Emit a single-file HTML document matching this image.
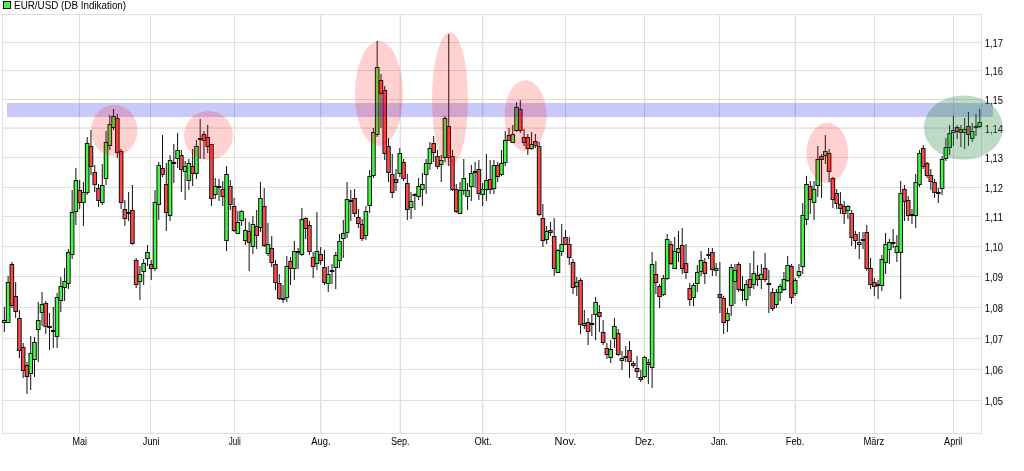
<!DOCTYPE html>
<html><head><meta charset="utf-8"><style>
html,body{margin:0;padding:0;background:#fff;width:1024px;height:471px;overflow:hidden;position:relative}
</style></head><body>
<svg width="1024" height="471" viewBox="0 0 1024 471" style="position:absolute;left:0;top:0;will-change:transform"><g shape-rendering="crispEdges"><rect x="2" y="42" width="980" height="1" fill="#dfdfdf"/><rect x="2" y="70" width="980" height="1" fill="#dfdfdf"/><rect x="2" y="99" width="980" height="1" fill="#dfdfdf"/><rect x="2" y="127" width="980" height="1" fill="#ececec"/><rect x="2" y="128" width="980" height="1" fill="#e6e6e6"/><rect x="2" y="157" width="980" height="1" fill="#dfdfdf"/><rect x="2" y="187" width="980" height="1" fill="#dfdfdf"/><rect x="2" y="216" width="980" height="1" fill="#dfdfdf"/><rect x="2" y="246" width="980" height="1" fill="#dfdfdf"/><rect x="2" y="276" width="980" height="1" fill="#dfdfdf"/><rect x="2" y="307" width="980" height="1" fill="#dfdfdf"/><rect x="2" y="338" width="980" height="1" fill="#dfdfdf"/><rect x="2" y="369" width="980" height="1" fill="#dfdfdf"/><rect x="2" y="400" width="980" height="1" fill="#dfdfdf"/><rect x="79" y="14" width="1" height="420" fill="#dfdfdf"/><rect x="150" y="14" width="1" height="420" fill="#dfdfdf"/><rect x="234" y="14" width="1" height="420" fill="#dfdfdf"/><rect x="320" y="14" width="1" height="420" fill="#dfdfdf"/><rect x="321" y="14" width="1" height="420" fill="#f2f2f2"/><rect x="400" y="14" width="1" height="420" fill="#dfdfdf"/><rect x="399" y="14" width="1" height="420" fill="#f2f2f2"/><rect x="482" y="14" width="1" height="420" fill="#dfdfdf"/><rect x="483" y="14" width="1" height="420" fill="#f2f2f2"/><rect x="565" y="14" width="1" height="420" fill="#dfdfdf"/><rect x="644" y="14" width="1" height="420" fill="#dfdfdf"/><rect x="719" y="14" width="1" height="420" fill="#dfdfdf"/><rect x="795" y="14" width="1" height="420" fill="#dfdfdf"/><rect x="794" y="14" width="1" height="420" fill="#f2f2f2"/><rect x="874" y="14" width="1" height="420" fill="#dfdfdf"/><rect x="953" y="14" width="1" height="420" fill="#dfdfdf"/><rect x="2" y="14" width="980" height="1" fill="#dfdfdf"/><rect x="2" y="433" width="980" height="1" fill="#dfdfdf"/><rect x="2" y="14" width="1" height="420" fill="#dfdfdf"/><rect x="981" y="14" width="1" height="420" fill="#dfdfdf"/></g><g shape-rendering="geometricPrecision"><rect x="3.85" y="307" width="1" height="25" fill="#111111"/><rect x="2.05" y="320" width="4.6" height="3" fill="#111111"/><rect x="3.05" y="321" width="2.6" height="1" fill="#46f846"/><rect x="7.62" y="276" width="1" height="46" fill="#111111"/><rect x="5.82" y="282" width="4.6" height="41" fill="#111111"/><rect x="6.82" y="283" width="2.6" height="39" fill="#46f846"/><rect x="11.38" y="262" width="1" height="46" fill="#111111"/><rect x="9.58" y="264" width="4.6" height="42" fill="#111111"/><rect x="10.58" y="265" width="2.6" height="40" fill="#ff4848"/><rect x="15.15" y="282" width="1" height="36" fill="#111111"/><rect x="13.35" y="296" width="4.6" height="16" fill="#111111"/><rect x="14.35" y="297" width="2.6" height="14" fill="#ff4848"/><rect x="18.91" y="310" width="1" height="48" fill="#111111"/><rect x="17.11" y="318" width="4.6" height="33" fill="#111111"/><rect x="18.11" y="319" width="2.6" height="31" fill="#ff4848"/><rect x="22.68" y="343" width="1" height="35" fill="#111111"/><rect x="20.88" y="347" width="4.6" height="24" fill="#111111"/><rect x="21.88" y="348" width="2.6" height="22" fill="#ff4848"/><rect x="26.45" y="362" width="1" height="32" fill="#111111"/><rect x="24.65" y="365" width="4.6" height="12" fill="#111111"/><rect x="25.65" y="366" width="2.6" height="10" fill="#ff4848"/><rect x="30.21" y="336" width="1" height="54" fill="#111111"/><rect x="28.41" y="353" width="4.6" height="21" fill="#111111"/><rect x="29.41" y="354" width="2.6" height="19" fill="#46f846"/><rect x="33.98" y="337" width="1" height="40" fill="#111111"/><rect x="32.18" y="342" width="4.6" height="18" fill="#111111"/><rect x="33.18" y="343" width="2.6" height="16" fill="#46f846"/><rect x="37.74" y="302" width="1" height="60" fill="#111111"/><rect x="35.94" y="320" width="4.6" height="10" fill="#111111"/><rect x="36.94" y="321" width="2.6" height="8" fill="#46f846"/><rect x="41.51" y="292" width="1" height="34" fill="#111111"/><rect x="39.71" y="304" width="4.6" height="9" fill="#111111"/><rect x="40.71" y="305" width="2.6" height="7" fill="#46f846"/><rect x="45.28" y="301" width="1" height="33" fill="#111111"/><rect x="43.48" y="303" width="4.6" height="24" fill="#111111"/><rect x="44.48" y="304" width="2.6" height="22" fill="#ff4848"/><rect x="49.04" y="313" width="1" height="37" fill="#111111"/><rect x="47.24" y="326" width="4.6" height="2" fill="#111111"/><rect x="52.81" y="307" width="1" height="41" fill="#111111"/><rect x="51.01" y="330" width="4.6" height="2" fill="#111111"/><rect x="56.57" y="293" width="1" height="55" fill="#111111"/><rect x="54.77" y="297" width="4.6" height="40" fill="#111111"/><rect x="55.77" y="298" width="2.6" height="38" fill="#46f846"/><rect x="60.34" y="277" width="1" height="35" fill="#111111"/><rect x="58.54" y="286" width="4.6" height="15" fill="#111111"/><rect x="59.54" y="287" width="2.6" height="13" fill="#46f846"/><rect x="64.11" y="268" width="1" height="33" fill="#111111"/><rect x="62.31" y="281" width="4.6" height="7" fill="#111111"/><rect x="63.31" y="282" width="2.6" height="5" fill="#46f846"/><rect x="67.87" y="249" width="1" height="40" fill="#111111"/><rect x="66.07" y="252" width="4.6" height="32" fill="#111111"/><rect x="67.07" y="253" width="2.6" height="30" fill="#46f846"/><rect x="71.64" y="190" width="1" height="69" fill="#111111"/><rect x="69.84" y="212" width="4.6" height="43" fill="#111111"/><rect x="70.84" y="213" width="2.6" height="41" fill="#46f846"/><rect x="75.40" y="168" width="1" height="57" fill="#111111"/><rect x="73.60" y="180" width="4.6" height="32" fill="#111111"/><rect x="74.60" y="181" width="2.6" height="30" fill="#46f846"/><rect x="79.17" y="180" width="1" height="29" fill="#111111"/><rect x="77.37" y="190" width="4.6" height="13" fill="#111111"/><rect x="78.37" y="191" width="2.6" height="11" fill="#ff4848"/><rect x="82.94" y="182" width="1" height="44" fill="#111111"/><rect x="81.14" y="192" width="4.6" height="11" fill="#111111"/><rect x="82.14" y="193" width="2.6" height="9" fill="#46f846"/><rect x="86.70" y="137" width="1" height="58" fill="#111111"/><rect x="84.90" y="143" width="4.6" height="50" fill="#111111"/><rect x="85.90" y="144" width="2.6" height="48" fill="#46f846"/><rect x="90.47" y="130" width="1" height="45" fill="#111111"/><rect x="88.67" y="146" width="4.6" height="21" fill="#111111"/><rect x="89.67" y="147" width="2.6" height="19" fill="#ff4848"/><rect x="94.23" y="165" width="1" height="27" fill="#111111"/><rect x="92.43" y="172" width="4.6" height="13" fill="#111111"/><rect x="93.43" y="173" width="2.6" height="11" fill="#ff4848"/><rect x="98.00" y="184" width="1" height="23" fill="#111111"/><rect x="96.20" y="188" width="4.6" height="13" fill="#111111"/><rect x="97.20" y="189" width="2.6" height="11" fill="#ff4848"/><rect x="101.77" y="164" width="1" height="41" fill="#111111"/><rect x="99.97" y="185" width="4.6" height="18" fill="#111111"/><rect x="100.97" y="186" width="2.6" height="16" fill="#46f846"/><rect x="105.53" y="131" width="1" height="54" fill="#111111"/><rect x="103.73" y="142" width="4.6" height="37" fill="#111111"/><rect x="104.73" y="143" width="2.6" height="35" fill="#46f846"/><rect x="109.30" y="115" width="1" height="35" fill="#111111"/><rect x="107.50" y="124" width="4.6" height="22" fill="#111111"/><rect x="108.50" y="125" width="2.6" height="20" fill="#46f846"/><rect x="113.06" y="109" width="1" height="21" fill="#111111"/><rect x="111.26" y="116" width="4.6" height="12" fill="#111111"/><rect x="112.26" y="117" width="2.6" height="10" fill="#46f846"/><rect x="116.83" y="114" width="1" height="44" fill="#111111"/><rect x="115.03" y="118" width="4.6" height="35" fill="#111111"/><rect x="116.03" y="119" width="2.6" height="33" fill="#ff4848"/><rect x="120.60" y="149" width="1" height="60" fill="#111111"/><rect x="118.80" y="151" width="4.6" height="52" fill="#111111"/><rect x="119.80" y="152" width="2.6" height="50" fill="#ff4848"/><rect x="124.36" y="200" width="1" height="26" fill="#111111"/><rect x="122.56" y="209" width="4.6" height="10" fill="#111111"/><rect x="123.56" y="210" width="2.6" height="8" fill="#ff4848"/><rect x="128.13" y="192" width="1" height="29" fill="#111111"/><rect x="126.33" y="212" width="4.6" height="2" fill="#111111"/><rect x="131.89" y="185" width="1" height="60" fill="#111111"/><rect x="130.09" y="210" width="4.6" height="34" fill="#111111"/><rect x="131.09" y="211" width="2.6" height="32" fill="#ff4848"/><rect x="135.66" y="258" width="1" height="30" fill="#111111"/><rect x="133.86" y="260" width="4.6" height="25" fill="#111111"/><rect x="134.86" y="261" width="2.6" height="23" fill="#ff4848"/><rect x="139.43" y="266" width="1" height="34" fill="#111111"/><rect x="137.63" y="274" width="4.6" height="8" fill="#111111"/><rect x="138.63" y="275" width="2.6" height="6" fill="#46f846"/><rect x="143.19" y="259" width="1" height="26" fill="#111111"/><rect x="141.39" y="263" width="4.6" height="9" fill="#111111"/><rect x="142.39" y="264" width="2.6" height="7" fill="#46f846"/><rect x="146.96" y="245" width="1" height="21" fill="#111111"/><rect x="145.16" y="252" width="4.6" height="7" fill="#111111"/><rect x="146.16" y="253" width="2.6" height="5" fill="#46f846"/><rect x="150.72" y="260" width="1" height="20" fill="#111111"/><rect x="148.92" y="264" width="4.6" height="5" fill="#111111"/><rect x="149.92" y="265" width="2.6" height="3" fill="#ff4848"/><rect x="154.49" y="190" width="1" height="81" fill="#111111"/><rect x="152.69" y="202" width="4.6" height="67" fill="#111111"/><rect x="153.69" y="203" width="2.6" height="65" fill="#46f846"/><rect x="158.26" y="162" width="1" height="58" fill="#111111"/><rect x="156.46" y="165" width="4.6" height="40" fill="#111111"/><rect x="157.46" y="166" width="2.6" height="38" fill="#46f846"/><rect x="162.02" y="135" width="1" height="42" fill="#111111"/><rect x="160.22" y="168" width="4.6" height="7" fill="#111111"/><rect x="161.22" y="169" width="2.6" height="5" fill="#ff4848"/><rect x="165.79" y="163" width="1" height="68" fill="#111111"/><rect x="163.99" y="184" width="4.6" height="29" fill="#111111"/><rect x="164.99" y="185" width="2.6" height="27" fill="#ff4848"/><rect x="169.55" y="155" width="1" height="66" fill="#111111"/><rect x="167.75" y="160" width="4.6" height="56" fill="#111111"/><rect x="168.75" y="161" width="2.6" height="54" fill="#46f846"/><rect x="173.32" y="144" width="1" height="39" fill="#111111"/><rect x="171.52" y="162" width="4.6" height="2" fill="#111111"/><rect x="177.09" y="133" width="1" height="35" fill="#111111"/><rect x="175.29" y="150" width="4.6" height="9" fill="#111111"/><rect x="176.29" y="151" width="2.6" height="7" fill="#46f846"/><rect x="180.85" y="150" width="1" height="42" fill="#111111"/><rect x="179.05" y="155" width="4.6" height="15" fill="#111111"/><rect x="180.05" y="156" width="2.6" height="13" fill="#ff4848"/><rect x="184.62" y="161" width="1" height="39" fill="#111111"/><rect x="182.82" y="166" width="4.6" height="6" fill="#111111"/><rect x="183.82" y="167" width="2.6" height="4" fill="#46f846"/><rect x="188.38" y="159" width="1" height="31" fill="#111111"/><rect x="186.58" y="163" width="4.6" height="18" fill="#111111"/><rect x="187.58" y="164" width="2.6" height="16" fill="#46f846"/><rect x="192.15" y="149" width="1" height="37" fill="#111111"/><rect x="190.35" y="166" width="4.6" height="8" fill="#111111"/><rect x="191.35" y="167" width="2.6" height="6" fill="#ff4848"/><rect x="195.92" y="140" width="1" height="39" fill="#111111"/><rect x="194.12" y="146" width="4.6" height="28" fill="#111111"/><rect x="195.12" y="147" width="2.6" height="26" fill="#46f846"/><rect x="199.68" y="119" width="1" height="40" fill="#111111"/><rect x="197.88" y="138" width="4.6" height="2" fill="#111111"/><rect x="203.45" y="131" width="1" height="28" fill="#111111"/><rect x="201.65" y="134" width="4.6" height="7" fill="#111111"/><rect x="202.65" y="135" width="2.6" height="5" fill="#ff4848"/><rect x="207.21" y="125" width="1" height="28" fill="#111111"/><rect x="205.41" y="137" width="4.6" height="10" fill="#111111"/><rect x="206.41" y="138" width="2.6" height="8" fill="#ff4848"/><rect x="210.98" y="144" width="1" height="62" fill="#111111"/><rect x="209.18" y="144" width="4.6" height="55" fill="#111111"/><rect x="210.18" y="145" width="2.6" height="53" fill="#ff4848"/><rect x="214.75" y="178" width="1" height="21" fill="#111111"/><rect x="212.95" y="186" width="4.6" height="9" fill="#111111"/><rect x="213.95" y="187" width="2.6" height="7" fill="#46f846"/><rect x="218.51" y="179" width="1" height="22" fill="#111111"/><rect x="216.71" y="186" width="4.6" height="2" fill="#111111"/><rect x="222.28" y="181" width="1" height="25" fill="#111111"/><rect x="220.48" y="189" width="4.6" height="8" fill="#111111"/><rect x="221.48" y="190" width="2.6" height="6" fill="#ff4848"/><rect x="226.04" y="166" width="1" height="85" fill="#111111"/><rect x="224.24" y="174" width="4.6" height="67" fill="#111111"/><rect x="225.24" y="175" width="2.6" height="65" fill="#46f846"/><rect x="229.81" y="180" width="1" height="30" fill="#111111"/><rect x="228.01" y="186" width="4.6" height="19" fill="#111111"/><rect x="229.01" y="187" width="2.6" height="17" fill="#ff4848"/><rect x="233.58" y="198" width="1" height="34" fill="#111111"/><rect x="231.78" y="206" width="4.6" height="25" fill="#111111"/><rect x="232.78" y="207" width="2.6" height="23" fill="#ff4848"/><rect x="237.34" y="211" width="1" height="22" fill="#111111"/><rect x="235.54" y="222" width="4.6" height="12" fill="#111111"/><rect x="236.54" y="223" width="2.6" height="10" fill="#46f846"/><rect x="241.11" y="210" width="1" height="16" fill="#111111"/><rect x="239.31" y="211" width="4.6" height="10" fill="#111111"/><rect x="240.31" y="212" width="2.6" height="8" fill="#46f846"/><rect x="244.87" y="218" width="1" height="27" fill="#111111"/><rect x="243.07" y="230" width="4.6" height="11" fill="#111111"/><rect x="244.07" y="231" width="2.6" height="9" fill="#46f846"/><rect x="248.64" y="222" width="1" height="49" fill="#111111"/><rect x="246.84" y="231" width="4.6" height="12" fill="#111111"/><rect x="247.84" y="232" width="2.6" height="10" fill="#ff4848"/><rect x="252.41" y="216" width="1" height="38" fill="#111111"/><rect x="250.61" y="224" width="4.6" height="23" fill="#111111"/><rect x="251.61" y="225" width="2.6" height="21" fill="#46f846"/><rect x="256.17" y="210" width="1" height="39" fill="#111111"/><rect x="254.37" y="226" width="4.6" height="10" fill="#111111"/><rect x="255.37" y="227" width="2.6" height="8" fill="#ff4848"/><rect x="259.94" y="182" width="1" height="50" fill="#111111"/><rect x="258.14" y="198" width="4.6" height="30" fill="#111111"/><rect x="259.14" y="199" width="2.6" height="28" fill="#46f846"/><rect x="263.70" y="188" width="1" height="59" fill="#111111"/><rect x="261.90" y="206" width="4.6" height="40" fill="#111111"/><rect x="262.90" y="207" width="2.6" height="38" fill="#ff4848"/><rect x="267.47" y="223" width="1" height="33" fill="#111111"/><rect x="265.67" y="244" width="4.6" height="10" fill="#111111"/><rect x="266.67" y="245" width="2.6" height="8" fill="#46f846"/><rect x="271.24" y="236" width="1" height="31" fill="#111111"/><rect x="269.44" y="248" width="4.6" height="15" fill="#111111"/><rect x="270.44" y="249" width="2.6" height="13" fill="#ff4848"/><rect x="275.00" y="260" width="1" height="30" fill="#111111"/><rect x="273.20" y="264" width="4.6" height="19" fill="#111111"/><rect x="274.20" y="265" width="2.6" height="17" fill="#ff4848"/><rect x="278.77" y="274" width="1" height="26" fill="#111111"/><rect x="276.97" y="283" width="4.6" height="16" fill="#111111"/><rect x="277.97" y="284" width="2.6" height="14" fill="#ff4848"/><rect x="282.53" y="285" width="1" height="18" fill="#111111"/><rect x="280.73" y="298" width="4.6" height="2" fill="#111111"/><rect x="286.30" y="256" width="1" height="46" fill="#111111"/><rect x="284.50" y="266" width="4.6" height="32" fill="#111111"/><rect x="285.50" y="267" width="2.6" height="30" fill="#46f846"/><rect x="290.07" y="257" width="1" height="28" fill="#111111"/><rect x="288.27" y="261" width="4.6" height="8" fill="#111111"/><rect x="289.27" y="262" width="2.6" height="6" fill="#ff4848"/><rect x="293.83" y="241" width="1" height="39" fill="#111111"/><rect x="292.03" y="251" width="4.6" height="18" fill="#111111"/><rect x="293.03" y="252" width="2.6" height="16" fill="#46f846"/><rect x="297.60" y="248" width="1" height="21" fill="#111111"/><rect x="295.80" y="251" width="4.6" height="2" fill="#111111"/><rect x="301.36" y="208" width="1" height="48" fill="#111111"/><rect x="299.56" y="219" width="4.6" height="36" fill="#111111"/><rect x="300.56" y="220" width="2.6" height="34" fill="#46f846"/><rect x="305.13" y="217" width="1" height="22" fill="#111111"/><rect x="303.33" y="218" width="4.6" height="11" fill="#111111"/><rect x="304.33" y="219" width="2.6" height="9" fill="#ff4848"/><rect x="308.90" y="221" width="1" height="34" fill="#111111"/><rect x="307.10" y="225" width="4.6" height="27" fill="#111111"/><rect x="308.10" y="226" width="2.6" height="25" fill="#ff4848"/><rect x="312.66" y="252" width="1" height="26" fill="#111111"/><rect x="310.86" y="257" width="4.6" height="10" fill="#111111"/><rect x="311.86" y="258" width="2.6" height="8" fill="#ff4848"/><rect x="316.43" y="212" width="1" height="58" fill="#111111"/><rect x="314.63" y="251" width="4.6" height="13" fill="#111111"/><rect x="315.63" y="252" width="2.6" height="11" fill="#46f846"/><rect x="320.19" y="247" width="1" height="18" fill="#111111"/><rect x="318.39" y="254" width="4.6" height="7" fill="#111111"/><rect x="319.39" y="255" width="2.6" height="5" fill="#ff4848"/><rect x="323.96" y="250" width="1" height="35" fill="#111111"/><rect x="322.16" y="267" width="4.6" height="16" fill="#111111"/><rect x="323.16" y="268" width="2.6" height="14" fill="#ff4848"/><rect x="327.73" y="266" width="1" height="26" fill="#111111"/><rect x="325.93" y="274" width="4.6" height="10" fill="#111111"/><rect x="326.93" y="275" width="2.6" height="8" fill="#46f846"/><rect x="331.49" y="264" width="1" height="20" fill="#111111"/><rect x="329.69" y="270" width="4.6" height="2" fill="#111111"/><rect x="335.26" y="252" width="1" height="37" fill="#111111"/><rect x="333.46" y="255" width="4.6" height="13" fill="#111111"/><rect x="334.46" y="256" width="2.6" height="11" fill="#46f846"/><rect x="339.02" y="234" width="1" height="34" fill="#111111"/><rect x="337.22" y="241" width="4.6" height="20" fill="#111111"/><rect x="338.22" y="242" width="2.6" height="18" fill="#46f846"/><rect x="342.79" y="220" width="1" height="38" fill="#111111"/><rect x="340.99" y="233" width="4.6" height="6" fill="#111111"/><rect x="341.99" y="234" width="2.6" height="4" fill="#46f846"/><rect x="346.56" y="182" width="1" height="56" fill="#111111"/><rect x="344.76" y="199" width="4.6" height="34" fill="#111111"/><rect x="345.76" y="200" width="2.6" height="32" fill="#46f846"/><rect x="350.32" y="190" width="1" height="31" fill="#111111"/><rect x="348.52" y="200" width="4.6" height="2" fill="#111111"/><rect x="354.09" y="189" width="1" height="28" fill="#111111"/><rect x="352.29" y="198" width="4.6" height="16" fill="#111111"/><rect x="353.29" y="199" width="2.6" height="14" fill="#ff4848"/><rect x="357.85" y="209" width="1" height="19" fill="#111111"/><rect x="356.05" y="217" width="4.6" height="7" fill="#111111"/><rect x="357.05" y="218" width="2.6" height="5" fill="#ff4848"/><rect x="361.62" y="219" width="1" height="22" fill="#111111"/><rect x="359.82" y="224" width="4.6" height="15" fill="#111111"/><rect x="360.82" y="225" width="2.6" height="13" fill="#ff4848"/><rect x="365.39" y="206" width="1" height="34" fill="#111111"/><rect x="363.59" y="211" width="4.6" height="25" fill="#111111"/><rect x="364.59" y="212" width="2.6" height="23" fill="#46f846"/><rect x="369.15" y="170" width="1" height="43" fill="#111111"/><rect x="367.35" y="176" width="4.6" height="30" fill="#111111"/><rect x="368.35" y="177" width="2.6" height="28" fill="#46f846"/><rect x="372.92" y="128" width="1" height="50" fill="#111111"/><rect x="371.12" y="132" width="4.6" height="44" fill="#111111"/><rect x="372.12" y="133" width="2.6" height="42" fill="#46f846"/><rect x="376.68" y="41" width="1" height="96" fill="#111111"/><rect x="374.88" y="67" width="4.6" height="68" fill="#111111"/><rect x="375.88" y="68" width="2.6" height="66" fill="#46f846"/><rect x="380.45" y="74" width="1" height="54" fill="#111111"/><rect x="378.65" y="80" width="4.6" height="14" fill="#111111"/><rect x="379.65" y="81" width="2.6" height="12" fill="#ff4848"/><rect x="384.22" y="86" width="1" height="74" fill="#111111"/><rect x="382.42" y="90" width="4.6" height="64" fill="#111111"/><rect x="383.42" y="91" width="2.6" height="62" fill="#ff4848"/><rect x="387.98" y="138" width="1" height="44" fill="#111111"/><rect x="386.18" y="146" width="4.6" height="27" fill="#111111"/><rect x="387.18" y="147" width="2.6" height="25" fill="#ff4848"/><rect x="391.75" y="154" width="1" height="44" fill="#111111"/><rect x="389.95" y="174" width="4.6" height="19" fill="#111111"/><rect x="390.95" y="175" width="2.6" height="17" fill="#ff4848"/><rect x="395.51" y="169" width="1" height="22" fill="#111111"/><rect x="393.71" y="179" width="4.6" height="4" fill="#111111"/><rect x="394.71" y="180" width="2.6" height="2" fill="#ff4848"/><rect x="399.28" y="148" width="1" height="29" fill="#111111"/><rect x="397.48" y="153" width="4.6" height="21" fill="#111111"/><rect x="398.48" y="154" width="2.6" height="19" fill="#46f846"/><rect x="403.05" y="159" width="1" height="22" fill="#111111"/><rect x="401.25" y="162" width="4.6" height="17" fill="#111111"/><rect x="402.25" y="163" width="2.6" height="15" fill="#ff4848"/><rect x="406.81" y="174" width="1" height="46" fill="#111111"/><rect x="405.01" y="183" width="4.6" height="27" fill="#111111"/><rect x="406.01" y="184" width="2.6" height="25" fill="#ff4848"/><rect x="410.58" y="192" width="1" height="27" fill="#111111"/><rect x="408.78" y="201" width="4.6" height="7" fill="#111111"/><rect x="409.78" y="202" width="2.6" height="5" fill="#46f846"/><rect x="414.34" y="193" width="1" height="17" fill="#111111"/><rect x="412.54" y="194" width="4.6" height="2" fill="#111111"/><rect x="418.11" y="178" width="1" height="22" fill="#111111"/><rect x="416.31" y="186" width="4.6" height="11" fill="#111111"/><rect x="417.31" y="187" width="2.6" height="9" fill="#46f846"/><rect x="421.88" y="173" width="1" height="33" fill="#111111"/><rect x="420.08" y="184" width="4.6" height="6" fill="#111111"/><rect x="421.08" y="185" width="2.6" height="4" fill="#46f846"/><rect x="425.64" y="159" width="1" height="35" fill="#111111"/><rect x="423.84" y="163" width="4.6" height="12" fill="#111111"/><rect x="424.84" y="164" width="2.6" height="10" fill="#46f846"/><rect x="429.41" y="142" width="1" height="28" fill="#111111"/><rect x="427.61" y="148" width="4.6" height="16" fill="#111111"/><rect x="428.61" y="149" width="2.6" height="14" fill="#46f846"/><rect x="433.17" y="136" width="1" height="26" fill="#111111"/><rect x="431.37" y="143" width="4.6" height="10" fill="#111111"/><rect x="432.37" y="144" width="2.6" height="8" fill="#ff4848"/><rect x="436.94" y="150" width="1" height="19" fill="#111111"/><rect x="435.14" y="156" width="4.6" height="11" fill="#111111"/><rect x="436.14" y="157" width="2.6" height="9" fill="#ff4848"/><rect x="440.71" y="155" width="1" height="27" fill="#111111"/><rect x="438.91" y="160" width="4.6" height="5" fill="#111111"/><rect x="439.91" y="161" width="2.6" height="3" fill="#46f846"/><rect x="444.47" y="116" width="1" height="46" fill="#111111"/><rect x="442.67" y="118" width="4.6" height="40" fill="#111111"/><rect x="443.67" y="119" width="2.6" height="38" fill="#46f846"/><rect x="448.24" y="34" width="1" height="132" fill="#111111"/><rect x="446.44" y="126" width="4.6" height="32" fill="#111111"/><rect x="447.44" y="127" width="2.6" height="30" fill="#ff4848"/><rect x="452.00" y="150" width="1" height="41" fill="#111111"/><rect x="450.20" y="156" width="4.6" height="34" fill="#111111"/><rect x="451.20" y="157" width="2.6" height="32" fill="#ff4848"/><rect x="455.77" y="184" width="1" height="29" fill="#111111"/><rect x="453.97" y="189" width="4.6" height="23" fill="#111111"/><rect x="454.97" y="190" width="2.6" height="21" fill="#ff4848"/><rect x="459.54" y="182" width="1" height="32" fill="#111111"/><rect x="457.74" y="190" width="4.6" height="24" fill="#111111"/><rect x="458.74" y="191" width="2.6" height="22" fill="#46f846"/><rect x="463.30" y="159" width="1" height="36" fill="#111111"/><rect x="461.50" y="178" width="4.6" height="13" fill="#111111"/><rect x="462.50" y="179" width="2.6" height="11" fill="#46f846"/><rect x="467.07" y="183" width="1" height="27" fill="#111111"/><rect x="465.27" y="190" width="4.6" height="7" fill="#111111"/><rect x="466.27" y="191" width="2.6" height="5" fill="#46f846"/><rect x="470.83" y="165" width="1" height="36" fill="#111111"/><rect x="469.03" y="173" width="4.6" height="14" fill="#111111"/><rect x="470.03" y="174" width="2.6" height="12" fill="#46f846"/><rect x="474.60" y="162" width="1" height="26" fill="#111111"/><rect x="472.80" y="171" width="4.6" height="2" fill="#111111"/><rect x="478.37" y="160" width="1" height="40" fill="#111111"/><rect x="476.57" y="169" width="4.6" height="25" fill="#111111"/><rect x="477.57" y="170" width="2.6" height="23" fill="#ff4848"/><rect x="482.13" y="183" width="1" height="23" fill="#111111"/><rect x="480.33" y="189" width="4.6" height="6" fill="#111111"/><rect x="481.33" y="190" width="2.6" height="4" fill="#46f846"/><rect x="485.90" y="154" width="1" height="47" fill="#111111"/><rect x="484.10" y="180" width="4.6" height="10" fill="#111111"/><rect x="485.10" y="181" width="2.6" height="8" fill="#46f846"/><rect x="489.66" y="160" width="1" height="34" fill="#111111"/><rect x="487.86" y="179" width="4.6" height="11" fill="#111111"/><rect x="488.86" y="180" width="2.6" height="9" fill="#ff4848"/><rect x="493.43" y="160" width="1" height="34" fill="#111111"/><rect x="491.63" y="165" width="4.6" height="24" fill="#111111"/><rect x="492.63" y="166" width="2.6" height="22" fill="#46f846"/><rect x="497.20" y="162" width="1" height="20" fill="#111111"/><rect x="495.40" y="165" width="4.6" height="12" fill="#111111"/><rect x="496.40" y="166" width="2.6" height="10" fill="#ff4848"/><rect x="500.96" y="150" width="1" height="26" fill="#111111"/><rect x="499.16" y="163" width="4.6" height="12" fill="#111111"/><rect x="500.16" y="164" width="2.6" height="10" fill="#46f846"/><rect x="504.73" y="131" width="1" height="35" fill="#111111"/><rect x="502.93" y="140" width="4.6" height="23" fill="#111111"/><rect x="503.93" y="141" width="2.6" height="21" fill="#46f846"/><rect x="508.49" y="128" width="1" height="13" fill="#111111"/><rect x="506.69" y="135" width="4.6" height="6" fill="#111111"/><rect x="507.69" y="136" width="2.6" height="4" fill="#ff4848"/><rect x="512.26" y="125" width="1" height="18" fill="#111111"/><rect x="510.46" y="134" width="4.6" height="9" fill="#111111"/><rect x="511.46" y="135" width="2.6" height="7" fill="#46f846"/><rect x="516.03" y="102" width="1" height="30" fill="#111111"/><rect x="514.23" y="107" width="4.6" height="24" fill="#111111"/><rect x="515.23" y="108" width="2.6" height="22" fill="#46f846"/><rect x="519.79" y="100" width="1" height="33" fill="#111111"/><rect x="517.99" y="109" width="4.6" height="22" fill="#111111"/><rect x="518.99" y="110" width="2.6" height="20" fill="#ff4848"/><rect x="523.56" y="129" width="1" height="17" fill="#111111"/><rect x="521.76" y="137" width="4.6" height="6" fill="#111111"/><rect x="522.76" y="138" width="2.6" height="4" fill="#ff4848"/><rect x="527.32" y="134" width="1" height="21" fill="#111111"/><rect x="525.52" y="137" width="4.6" height="12" fill="#111111"/><rect x="526.52" y="138" width="2.6" height="10" fill="#ff4848"/><rect x="531.09" y="132" width="1" height="18" fill="#111111"/><rect x="529.29" y="144" width="4.6" height="5" fill="#111111"/><rect x="530.29" y="145" width="2.6" height="3" fill="#46f846"/><rect x="534.86" y="134" width="1" height="14" fill="#111111"/><rect x="533.06" y="141" width="4.6" height="5" fill="#111111"/><rect x="534.06" y="142" width="2.6" height="3" fill="#ff4848"/><rect x="538.62" y="142" width="1" height="74" fill="#111111"/><rect x="536.82" y="146" width="4.6" height="69" fill="#111111"/><rect x="537.82" y="147" width="2.6" height="67" fill="#ff4848"/><rect x="542.39" y="204" width="1" height="43" fill="#111111"/><rect x="540.59" y="218" width="4.6" height="23" fill="#111111"/><rect x="541.59" y="219" width="2.6" height="21" fill="#ff4848"/><rect x="546.15" y="226" width="1" height="18" fill="#111111"/><rect x="544.35" y="231" width="4.6" height="9" fill="#111111"/><rect x="545.35" y="232" width="2.6" height="7" fill="#46f846"/><rect x="549.92" y="222" width="1" height="14" fill="#111111"/><rect x="548.12" y="230" width="4.6" height="3" fill="#111111"/><rect x="549.12" y="231" width="2.6" height="1" fill="#ff4848"/><rect x="553.69" y="218" width="1" height="58" fill="#111111"/><rect x="551.89" y="236" width="4.6" height="33" fill="#111111"/><rect x="552.89" y="237" width="2.6" height="31" fill="#ff4848"/><rect x="557.45" y="249" width="1" height="24" fill="#111111"/><rect x="555.65" y="250" width="4.6" height="23" fill="#111111"/><rect x="556.65" y="251" width="2.6" height="21" fill="#46f846"/><rect x="561.22" y="224" width="1" height="32" fill="#111111"/><rect x="559.42" y="244" width="4.6" height="8" fill="#111111"/><rect x="560.42" y="245" width="2.6" height="6" fill="#46f846"/><rect x="564.98" y="230" width="1" height="15" fill="#111111"/><rect x="563.18" y="237" width="4.6" height="8" fill="#111111"/><rect x="564.18" y="238" width="2.6" height="6" fill="#ff4848"/><rect x="568.75" y="237" width="1" height="28" fill="#111111"/><rect x="566.95" y="244" width="4.6" height="14" fill="#111111"/><rect x="567.95" y="245" width="2.6" height="12" fill="#ff4848"/><rect x="572.52" y="259" width="1" height="35" fill="#111111"/><rect x="570.72" y="262" width="4.6" height="26" fill="#111111"/><rect x="571.72" y="263" width="2.6" height="24" fill="#ff4848"/><rect x="576.28" y="277" width="1" height="19" fill="#111111"/><rect x="574.48" y="282" width="4.6" height="5" fill="#111111"/><rect x="575.48" y="283" width="2.6" height="3" fill="#46f846"/><rect x="580.05" y="278" width="1" height="56" fill="#111111"/><rect x="578.25" y="280" width="4.6" height="45" fill="#111111"/><rect x="579.25" y="281" width="2.6" height="43" fill="#ff4848"/><rect x="583.81" y="310" width="1" height="19" fill="#111111"/><rect x="582.01" y="323" width="4.6" height="3" fill="#111111"/><rect x="583.01" y="324" width="2.6" height="1" fill="#46f846"/><rect x="587.58" y="318" width="1" height="27" fill="#111111"/><rect x="585.78" y="322" width="4.6" height="10" fill="#111111"/><rect x="586.78" y="323" width="2.6" height="8" fill="#ff4848"/><rect x="591.35" y="314" width="1" height="22" fill="#111111"/><rect x="589.55" y="323" width="4.6" height="2" fill="#111111"/><rect x="595.11" y="297" width="1" height="43" fill="#111111"/><rect x="593.31" y="302" width="4.6" height="13" fill="#111111"/><rect x="594.31" y="303" width="2.6" height="11" fill="#46f846"/><rect x="598.88" y="305" width="1" height="27" fill="#111111"/><rect x="597.08" y="312" width="4.6" height="5" fill="#111111"/><rect x="598.08" y="313" width="2.6" height="3" fill="#ff4848"/><rect x="602.64" y="320" width="1" height="25" fill="#111111"/><rect x="600.84" y="332" width="4.6" height="11" fill="#111111"/><rect x="601.84" y="333" width="2.6" height="9" fill="#ff4848"/><rect x="606.41" y="343" width="1" height="16" fill="#111111"/><rect x="604.61" y="348" width="4.6" height="7" fill="#111111"/><rect x="605.61" y="349" width="2.6" height="5" fill="#ff4848"/><rect x="610.18" y="340" width="1" height="23" fill="#111111"/><rect x="608.38" y="349" width="4.6" height="9" fill="#111111"/><rect x="609.38" y="350" width="2.6" height="7" fill="#46f846"/><rect x="613.94" y="318" width="1" height="30" fill="#111111"/><rect x="612.14" y="326" width="4.6" height="13" fill="#111111"/><rect x="613.14" y="327" width="2.6" height="11" fill="#46f846"/><rect x="617.71" y="329" width="1" height="27" fill="#111111"/><rect x="615.91" y="333" width="4.6" height="22" fill="#111111"/><rect x="616.91" y="334" width="2.6" height="20" fill="#ff4848"/><rect x="621.47" y="351" width="1" height="19" fill="#111111"/><rect x="619.67" y="358" width="4.6" height="3" fill="#111111"/><rect x="620.67" y="359" width="2.6" height="1" fill="#46f846"/><rect x="625.24" y="346" width="1" height="16" fill="#111111"/><rect x="623.44" y="356" width="4.6" height="2" fill="#111111"/><rect x="629.01" y="341" width="1" height="37" fill="#111111"/><rect x="627.21" y="350" width="4.6" height="12" fill="#111111"/><rect x="628.21" y="351" width="2.6" height="10" fill="#ff4848"/><rect x="632.77" y="361" width="1" height="7" fill="#111111"/><rect x="630.97" y="363" width="4.6" height="3" fill="#111111"/><rect x="631.97" y="364" width="2.6" height="1" fill="#ff4848"/><rect x="636.54" y="356" width="1" height="22" fill="#111111"/><rect x="634.74" y="368" width="4.6" height="4" fill="#111111"/><rect x="635.74" y="369" width="2.6" height="2" fill="#ff4848"/><rect x="640.30" y="370" width="1" height="12" fill="#111111"/><rect x="638.50" y="377" width="4.6" height="3" fill="#111111"/><rect x="639.50" y="378" width="2.6" height="1" fill="#ff4848"/><rect x="644.07" y="356" width="1" height="22" fill="#111111"/><rect x="642.27" y="357" width="4.6" height="20" fill="#111111"/><rect x="643.27" y="358" width="2.6" height="18" fill="#46f846"/><rect x="647.84" y="359" width="1" height="25" fill="#111111"/><rect x="646.04" y="362" width="4.6" height="3" fill="#111111"/><rect x="647.04" y="363" width="2.6" height="1" fill="#ff4848"/><rect x="651.60" y="252" width="1" height="136" fill="#111111"/><rect x="649.80" y="264" width="4.6" height="104" fill="#111111"/><rect x="650.80" y="265" width="2.6" height="102" fill="#46f846"/><rect x="655.37" y="261" width="1" height="33" fill="#111111"/><rect x="653.57" y="274" width="4.6" height="9" fill="#111111"/><rect x="654.57" y="275" width="2.6" height="7" fill="#ff4848"/><rect x="659.13" y="284" width="1" height="24" fill="#111111"/><rect x="657.33" y="286" width="4.6" height="11" fill="#111111"/><rect x="658.33" y="287" width="2.6" height="9" fill="#ff4848"/><rect x="662.90" y="275" width="1" height="21" fill="#111111"/><rect x="661.10" y="278" width="4.6" height="17" fill="#111111"/><rect x="662.10" y="279" width="2.6" height="15" fill="#46f846"/><rect x="666.67" y="234" width="1" height="46" fill="#111111"/><rect x="664.87" y="239" width="4.6" height="40" fill="#111111"/><rect x="665.87" y="240" width="2.6" height="38" fill="#46f846"/><rect x="670.43" y="241" width="1" height="24" fill="#111111"/><rect x="668.63" y="244" width="4.6" height="20" fill="#111111"/><rect x="669.63" y="245" width="2.6" height="18" fill="#ff4848"/><rect x="674.20" y="237" width="1" height="31" fill="#111111"/><rect x="672.40" y="251" width="4.6" height="18" fill="#111111"/><rect x="673.40" y="252" width="2.6" height="16" fill="#46f846"/><rect x="677.96" y="231" width="1" height="31" fill="#111111"/><rect x="676.16" y="248" width="4.6" height="5" fill="#111111"/><rect x="677.16" y="249" width="2.6" height="3" fill="#46f846"/><rect x="681.73" y="228" width="1" height="46" fill="#111111"/><rect x="679.93" y="245" width="4.6" height="24" fill="#111111"/><rect x="680.93" y="246" width="2.6" height="22" fill="#ff4848"/><rect x="685.50" y="244" width="1" height="35" fill="#111111"/><rect x="683.70" y="263" width="4.6" height="10" fill="#111111"/><rect x="684.70" y="264" width="2.6" height="8" fill="#ff4848"/><rect x="689.26" y="283" width="1" height="23" fill="#111111"/><rect x="687.46" y="288" width="4.6" height="12" fill="#111111"/><rect x="688.46" y="289" width="2.6" height="10" fill="#ff4848"/><rect x="693.03" y="283" width="1" height="23" fill="#111111"/><rect x="691.23" y="285" width="4.6" height="13" fill="#111111"/><rect x="692.23" y="286" width="2.6" height="11" fill="#46f846"/><rect x="696.79" y="265" width="1" height="27" fill="#111111"/><rect x="694.99" y="272" width="4.6" height="12" fill="#111111"/><rect x="695.99" y="273" width="2.6" height="10" fill="#46f846"/><rect x="700.56" y="251" width="1" height="25" fill="#111111"/><rect x="698.76" y="260" width="4.6" height="12" fill="#111111"/><rect x="699.76" y="261" width="2.6" height="10" fill="#46f846"/><rect x="704.33" y="258" width="1" height="26" fill="#111111"/><rect x="702.53" y="262" width="4.6" height="12" fill="#111111"/><rect x="703.53" y="263" width="2.6" height="10" fill="#ff4848"/><rect x="708.09" y="248" width="1" height="11" fill="#111111"/><rect x="706.29" y="254" width="4.6" height="2" fill="#111111"/><rect x="711.86" y="248" width="1" height="28" fill="#111111"/><rect x="710.06" y="252" width="4.6" height="18" fill="#111111"/><rect x="711.06" y="253" width="2.6" height="16" fill="#ff4848"/><rect x="715.62" y="263" width="1" height="13" fill="#111111"/><rect x="713.82" y="268" width="4.6" height="3" fill="#111111"/><rect x="714.82" y="269" width="2.6" height="1" fill="#46f846"/><rect x="719.39" y="262" width="1" height="51" fill="#111111"/><rect x="717.59" y="294" width="4.6" height="4" fill="#111111"/><rect x="718.59" y="295" width="2.6" height="2" fill="#ff4848"/><rect x="723.16" y="296" width="1" height="38" fill="#111111"/><rect x="721.36" y="298" width="4.6" height="25" fill="#111111"/><rect x="722.36" y="299" width="2.6" height="23" fill="#ff4848"/><rect x="726.92" y="308" width="1" height="24" fill="#111111"/><rect x="725.12" y="313" width="4.6" height="8" fill="#111111"/><rect x="726.12" y="314" width="2.6" height="6" fill="#46f846"/><rect x="730.69" y="264" width="1" height="52" fill="#111111"/><rect x="728.89" y="267" width="4.6" height="39" fill="#111111"/><rect x="729.89" y="268" width="2.6" height="37" fill="#46f846"/><rect x="734.45" y="264" width="1" height="40" fill="#111111"/><rect x="732.65" y="270" width="4.6" height="12" fill="#111111"/><rect x="733.65" y="271" width="2.6" height="10" fill="#46f846"/><rect x="738.22" y="262" width="1" height="30" fill="#111111"/><rect x="736.42" y="264" width="4.6" height="26" fill="#111111"/><rect x="737.42" y="265" width="2.6" height="24" fill="#ff4848"/><rect x="741.99" y="276" width="1" height="25" fill="#111111"/><rect x="740.19" y="289" width="4.6" height="2" fill="#111111"/><rect x="745.75" y="280" width="1" height="26" fill="#111111"/><rect x="743.95" y="284" width="4.6" height="16" fill="#111111"/><rect x="744.95" y="285" width="2.6" height="14" fill="#46f846"/><rect x="749.52" y="263" width="1" height="33" fill="#111111"/><rect x="747.72" y="279" width="4.6" height="9" fill="#111111"/><rect x="748.72" y="280" width="2.6" height="7" fill="#ff4848"/><rect x="753.28" y="251" width="1" height="38" fill="#111111"/><rect x="751.48" y="273" width="4.6" height="12" fill="#111111"/><rect x="752.48" y="274" width="2.6" height="10" fill="#46f846"/><rect x="757.05" y="265" width="1" height="21" fill="#111111"/><rect x="755.25" y="275" width="4.6" height="5" fill="#111111"/><rect x="756.25" y="276" width="2.6" height="3" fill="#ff4848"/><rect x="760.82" y="264" width="1" height="25" fill="#111111"/><rect x="759.02" y="274" width="4.6" height="6" fill="#111111"/><rect x="760.02" y="275" width="2.6" height="4" fill="#46f846"/><rect x="764.58" y="253" width="1" height="29" fill="#111111"/><rect x="762.78" y="268" width="4.6" height="12" fill="#111111"/><rect x="763.78" y="269" width="2.6" height="10" fill="#ff4848"/><rect x="768.35" y="270" width="1" height="43" fill="#111111"/><rect x="766.55" y="283" width="4.6" height="2" fill="#111111"/><rect x="772.11" y="288" width="1" height="23" fill="#111111"/><rect x="770.31" y="292" width="4.6" height="17" fill="#111111"/><rect x="771.31" y="293" width="2.6" height="15" fill="#ff4848"/><rect x="775.88" y="289" width="1" height="19" fill="#111111"/><rect x="774.08" y="292" width="4.6" height="13" fill="#111111"/><rect x="775.08" y="293" width="2.6" height="11" fill="#46f846"/><rect x="779.65" y="284" width="1" height="17" fill="#111111"/><rect x="777.85" y="286" width="4.6" height="7" fill="#111111"/><rect x="778.85" y="287" width="2.6" height="5" fill="#46f846"/><rect x="783.41" y="272" width="1" height="19" fill="#111111"/><rect x="781.61" y="279" width="4.6" height="11" fill="#111111"/><rect x="782.61" y="280" width="2.6" height="9" fill="#46f846"/><rect x="787.18" y="256" width="1" height="26" fill="#111111"/><rect x="785.38" y="265" width="4.6" height="16" fill="#111111"/><rect x="786.38" y="266" width="2.6" height="14" fill="#46f846"/><rect x="790.94" y="264" width="1" height="40" fill="#111111"/><rect x="789.14" y="266" width="4.6" height="32" fill="#111111"/><rect x="790.14" y="267" width="2.6" height="30" fill="#ff4848"/><rect x="794.71" y="278" width="1" height="18" fill="#111111"/><rect x="792.91" y="280" width="4.6" height="14" fill="#111111"/><rect x="793.91" y="281" width="2.6" height="12" fill="#46f846"/><rect x="798.48" y="264" width="1" height="14" fill="#111111"/><rect x="796.68" y="271" width="4.6" height="5" fill="#111111"/><rect x="797.68" y="272" width="2.6" height="3" fill="#46f846"/><rect x="802.24" y="203" width="1" height="71" fill="#111111"/><rect x="800.44" y="215" width="4.6" height="52" fill="#111111"/><rect x="801.44" y="216" width="2.6" height="50" fill="#46f846"/><rect x="806.01" y="176" width="1" height="49" fill="#111111"/><rect x="804.21" y="184" width="4.6" height="36" fill="#111111"/><rect x="805.21" y="185" width="2.6" height="34" fill="#46f846"/><rect x="809.77" y="181" width="1" height="33" fill="#111111"/><rect x="807.97" y="186" width="4.6" height="14" fill="#111111"/><rect x="808.97" y="187" width="2.6" height="12" fill="#ff4848"/><rect x="813.54" y="181" width="1" height="39" fill="#111111"/><rect x="811.74" y="189" width="4.6" height="14" fill="#111111"/><rect x="812.74" y="190" width="2.6" height="12" fill="#46f846"/><rect x="817.31" y="146" width="1" height="51" fill="#111111"/><rect x="815.51" y="159" width="4.6" height="27" fill="#111111"/><rect x="816.51" y="160" width="2.6" height="25" fill="#46f846"/><rect x="821.07" y="154" width="1" height="44" fill="#111111"/><rect x="819.27" y="156" width="4.6" height="4" fill="#111111"/><rect x="820.27" y="157" width="2.6" height="2" fill="#ff4848"/><rect x="824.84" y="135" width="1" height="29" fill="#111111"/><rect x="823.04" y="151" width="4.6" height="5" fill="#111111"/><rect x="824.04" y="152" width="2.6" height="3" fill="#46f846"/><rect x="828.60" y="149" width="1" height="33" fill="#111111"/><rect x="826.80" y="153" width="4.6" height="19" fill="#111111"/><rect x="827.80" y="154" width="2.6" height="17" fill="#ff4848"/><rect x="832.37" y="177" width="1" height="31" fill="#111111"/><rect x="830.57" y="178" width="4.6" height="22" fill="#111111"/><rect x="831.57" y="179" width="2.6" height="20" fill="#ff4848"/><rect x="836.14" y="189" width="1" height="20" fill="#111111"/><rect x="834.34" y="193" width="4.6" height="11" fill="#111111"/><rect x="835.34" y="194" width="2.6" height="9" fill="#ff4848"/><rect x="839.90" y="192" width="1" height="22" fill="#111111"/><rect x="838.10" y="204" width="4.6" height="5" fill="#111111"/><rect x="839.10" y="205" width="2.6" height="3" fill="#ff4848"/><rect x="843.67" y="201" width="1" height="23" fill="#111111"/><rect x="841.87" y="206" width="4.6" height="8" fill="#111111"/><rect x="842.87" y="207" width="2.6" height="6" fill="#ff4848"/><rect x="847.43" y="205" width="1" height="14" fill="#111111"/><rect x="845.63" y="206" width="4.6" height="5" fill="#111111"/><rect x="846.63" y="207" width="2.6" height="3" fill="#46f846"/><rect x="851.20" y="210" width="1" height="36" fill="#111111"/><rect x="849.40" y="213" width="4.6" height="25" fill="#111111"/><rect x="850.40" y="214" width="2.6" height="23" fill="#ff4848"/><rect x="854.97" y="231" width="1" height="18" fill="#111111"/><rect x="853.17" y="234" width="4.6" height="7" fill="#111111"/><rect x="854.17" y="235" width="2.6" height="5" fill="#ff4848"/><rect x="858.73" y="232" width="1" height="27" fill="#111111"/><rect x="856.93" y="242" width="4.6" height="3" fill="#111111"/><rect x="857.93" y="243" width="2.6" height="1" fill="#46f846"/><rect x="862.50" y="232" width="1" height="17" fill="#111111"/><rect x="860.70" y="239" width="4.6" height="2" fill="#111111"/><rect x="866.26" y="225" width="1" height="46" fill="#111111"/><rect x="864.46" y="232" width="4.6" height="37" fill="#111111"/><rect x="865.46" y="233" width="2.6" height="35" fill="#ff4848"/><rect x="870.03" y="258" width="1" height="31" fill="#111111"/><rect x="868.23" y="268" width="4.6" height="17" fill="#111111"/><rect x="869.23" y="269" width="2.6" height="15" fill="#ff4848"/><rect x="873.80" y="278" width="1" height="18" fill="#111111"/><rect x="872.00" y="282" width="4.6" height="5" fill="#111111"/><rect x="873.00" y="283" width="2.6" height="3" fill="#ff4848"/><rect x="877.56" y="280" width="1" height="19" fill="#111111"/><rect x="875.76" y="284" width="4.6" height="2" fill="#111111"/><rect x="881.33" y="255" width="1" height="36" fill="#111111"/><rect x="879.53" y="259" width="4.6" height="27" fill="#111111"/><rect x="880.53" y="260" width="2.6" height="25" fill="#46f846"/><rect x="885.09" y="233" width="1" height="41" fill="#111111"/><rect x="883.29" y="244" width="4.6" height="19" fill="#111111"/><rect x="884.29" y="245" width="2.6" height="17" fill="#46f846"/><rect x="888.86" y="239" width="1" height="25" fill="#111111"/><rect x="887.06" y="242" width="4.6" height="8" fill="#111111"/><rect x="888.06" y="243" width="2.6" height="6" fill="#46f846"/><rect x="892.63" y="229" width="1" height="19" fill="#111111"/><rect x="890.83" y="242" width="4.6" height="2" fill="#111111"/><rect x="896.39" y="235" width="1" height="27" fill="#111111"/><rect x="894.59" y="246" width="4.6" height="7" fill="#111111"/><rect x="895.59" y="247" width="2.6" height="5" fill="#46f846"/><rect x="900.16" y="181" width="1" height="118" fill="#111111"/><rect x="898.36" y="193" width="4.6" height="60" fill="#111111"/><rect x="899.36" y="194" width="2.6" height="58" fill="#46f846"/><rect x="903.92" y="185" width="1" height="36" fill="#111111"/><rect x="902.12" y="189" width="4.6" height="13" fill="#111111"/><rect x="903.12" y="190" width="2.6" height="11" fill="#ff4848"/><rect x="907.69" y="196" width="1" height="25" fill="#111111"/><rect x="905.89" y="200" width="4.6" height="16" fill="#111111"/><rect x="906.89" y="201" width="2.6" height="14" fill="#ff4848"/><rect x="911.46" y="209" width="1" height="15" fill="#111111"/><rect x="909.66" y="214" width="4.6" height="2" fill="#111111"/><rect x="915.22" y="174" width="1" height="54" fill="#111111"/><rect x="913.42" y="182" width="4.6" height="34" fill="#111111"/><rect x="914.42" y="183" width="2.6" height="32" fill="#46f846"/><rect x="918.99" y="150" width="1" height="37" fill="#111111"/><rect x="917.19" y="153" width="4.6" height="32" fill="#111111"/><rect x="918.19" y="154" width="2.6" height="30" fill="#46f846"/><rect x="922.75" y="145" width="1" height="24" fill="#111111"/><rect x="920.95" y="148" width="4.6" height="19" fill="#111111"/><rect x="921.95" y="149" width="2.6" height="17" fill="#ff4848"/><rect x="926.52" y="162" width="1" height="16" fill="#111111"/><rect x="924.72" y="163" width="4.6" height="13" fill="#111111"/><rect x="925.72" y="164" width="2.6" height="11" fill="#ff4848"/><rect x="930.29" y="169" width="1" height="21" fill="#111111"/><rect x="928.49" y="175" width="4.6" height="7" fill="#111111"/><rect x="929.49" y="176" width="2.6" height="5" fill="#ff4848"/><rect x="934.05" y="179" width="1" height="19" fill="#111111"/><rect x="932.25" y="182" width="4.6" height="11" fill="#111111"/><rect x="933.25" y="183" width="2.6" height="9" fill="#ff4848"/><rect x="937.82" y="188" width="1" height="15" fill="#111111"/><rect x="936.02" y="192" width="4.6" height="2" fill="#111111"/><rect x="941.58" y="156" width="1" height="39" fill="#111111"/><rect x="939.78" y="159" width="4.6" height="30" fill="#111111"/><rect x="940.78" y="160" width="2.6" height="28" fill="#46f846"/><rect x="945.35" y="138" width="1" height="23" fill="#111111"/><rect x="943.55" y="147" width="4.6" height="12" fill="#111111"/><rect x="944.55" y="148" width="2.6" height="10" fill="#46f846"/><rect x="949.12" y="125" width="1" height="30" fill="#111111"/><rect x="947.32" y="133" width="4.6" height="15" fill="#111111"/><rect x="948.32" y="134" width="2.6" height="13" fill="#46f846"/><rect x="952.88" y="116" width="1" height="30" fill="#111111"/><rect x="951.08" y="130" width="4.6" height="3" fill="#111111"/><rect x="952.08" y="131" width="2.6" height="1" fill="#46f846"/><rect x="956.65" y="125" width="1" height="14" fill="#111111"/><rect x="954.85" y="127" width="4.6" height="5" fill="#111111"/><rect x="955.85" y="128" width="2.6" height="3" fill="#ff4848"/><rect x="960.41" y="125" width="1" height="22" fill="#111111"/><rect x="958.61" y="129" width="4.6" height="4" fill="#111111"/><rect x="959.61" y="130" width="2.6" height="2" fill="#ff4848"/><rect x="964.18" y="118" width="1" height="31" fill="#111111"/><rect x="962.38" y="129" width="4.6" height="4" fill="#111111"/><rect x="963.38" y="130" width="2.6" height="2" fill="#46f846"/><rect x="967.95" y="112" width="1" height="34" fill="#111111"/><rect x="966.15" y="126" width="4.6" height="9" fill="#111111"/><rect x="967.15" y="127" width="2.6" height="7" fill="#ff4848"/><rect x="971.71" y="123" width="1" height="19" fill="#111111"/><rect x="969.91" y="131" width="4.6" height="8" fill="#111111"/><rect x="970.91" y="132" width="2.6" height="6" fill="#46f846"/><rect x="975.48" y="114" width="1" height="22" fill="#111111"/><rect x="973.68" y="126" width="4.6" height="2" fill="#111111"/><rect x="979.24" y="109" width="1" height="19" fill="#111111"/><rect x="977.44" y="122" width="4.6" height="5" fill="#111111"/><rect x="978.44" y="123" width="2.6" height="3" fill="#46f846"/></g><g font-family="Liberation Sans, sans-serif" font-size="10" fill="#000"><text x="984.66" y="46.8" textLength="18.3" lengthAdjust="spacingAndGlyphs">1,17</text><text x="984.66" y="74.8" textLength="18.3" lengthAdjust="spacingAndGlyphs">1,16</text><text x="984.66" y="103.8" textLength="18.3" lengthAdjust="spacingAndGlyphs">1,15</text><text x="984.66" y="132.8" textLength="18.3" lengthAdjust="spacingAndGlyphs">1,14</text><text x="984.66" y="161.8" textLength="18.3" lengthAdjust="spacingAndGlyphs">1,13</text><text x="984.66" y="191.8" textLength="18.3" lengthAdjust="spacingAndGlyphs">1,12</text><text x="984.66" y="220.8" textLength="18.3" lengthAdjust="spacingAndGlyphs">1,11</text><text x="984.66" y="250.8" textLength="18.3" lengthAdjust="spacingAndGlyphs">1,10</text><text x="984.66" y="280.8" textLength="18.3" lengthAdjust="spacingAndGlyphs">1,09</text><text x="984.66" y="311.8" textLength="18.3" lengthAdjust="spacingAndGlyphs">1,08</text><text x="984.66" y="342.8" textLength="18.3" lengthAdjust="spacingAndGlyphs">1,07</text><text x="984.66" y="373.8" textLength="18.3" lengthAdjust="spacingAndGlyphs">1,06</text><text x="984.66" y="404.8" textLength="18.3" lengthAdjust="spacingAndGlyphs">1,05</text><text x="72.50" y="445" textLength="14.51" lengthAdjust="spacingAndGlyphs">Mai</text><text x="142.80" y="445" textLength="16.83" lengthAdjust="spacingAndGlyphs">Juni</text><text x="228.70" y="445" textLength="12.02" lengthAdjust="spacingAndGlyphs">Juli</text><text x="311.25" y="445" textLength="19.29" lengthAdjust="spacingAndGlyphs">Aug.</text><text x="390.90" y="445" textLength="18.73" lengthAdjust="spacingAndGlyphs">Sep.</text><text x="474.40" y="445" textLength="17.17" lengthAdjust="spacingAndGlyphs">Okt.</text><text x="554.51" y="445" textLength="21.70" lengthAdjust="spacingAndGlyphs">Nov.</text><text x="634.94" y="445" textLength="19.69" lengthAdjust="spacingAndGlyphs">Dez.</text><text x="710.90" y="445" textLength="17.12" lengthAdjust="spacingAndGlyphs">Jan.</text><text x="785.66" y="445" textLength="18.76" lengthAdjust="spacingAndGlyphs">Feb.</text><text x="863.46" y="445" textLength="20.85" lengthAdjust="spacingAndGlyphs">März</text><text x="944.10" y="445" textLength="18.17" lengthAdjust="spacingAndGlyphs">April</text><text x="14.12" y="9" textLength="112.00" lengthAdjust="spacingAndGlyphs">EUR/USD (DB Indikation)</text></g><rect x="3.5" y="1.5" width="7" height="7" fill="#46f846" stroke="#000" stroke-width="1"/><rect x="7" y="103" width="986" height="14" fill="rgb(0,0,230)" fill-opacity="0.216"/><ellipse cx="114.2" cy="130.5" rx="23.2" ry="25.8" fill="rgb(255,0,0)" fill-opacity="0.18"/><ellipse cx="208.4" cy="135.5" rx="24.4" ry="24.6" fill="rgb(255,0,0)" fill-opacity="0.18"/><ellipse cx="379" cy="93.75" rx="24" ry="52.5" fill="rgb(255,0,0)" fill-opacity="0.18"/><ellipse cx="450" cy="99.4" rx="18" ry="66.9" fill="rgb(255,0,0)" fill-opacity="0.18"/><ellipse cx="525.5" cy="115.6" rx="21" ry="35.6" fill="rgb(255,0,0)" fill-opacity="0.18"/><ellipse cx="827.3" cy="153" rx="20.8" ry="30" fill="rgb(255,0,0)" fill-opacity="0.18"/><ellipse cx="963.4" cy="127.6" rx="39.6" ry="32.2" fill="rgb(39,135,65)" fill-opacity="0.31"/></svg>
</body></html>
